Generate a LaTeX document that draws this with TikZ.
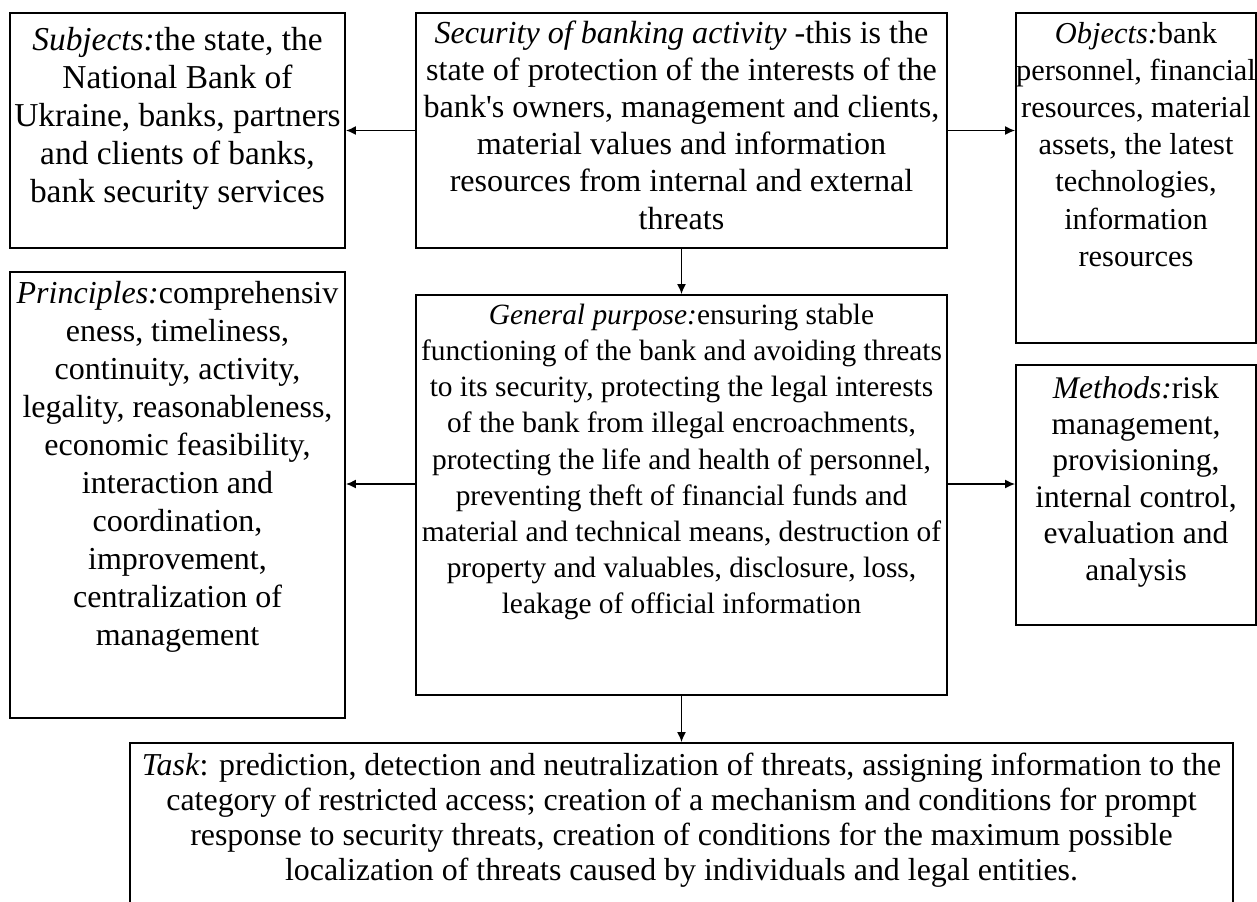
\documentclass[tikz,border=0pt]{standalone}
\usepackage{fontspec}
\setmainfont{Liberation Serif}
\usetikzlibrary{arrows.meta}
\newcommand{\boxtext}[4]{\parbox[c][#2][t]{#1}{\vspace*{#3}\makebox[#1]{\begin{tabular}[t]{@{}c@{}}#4\end{tabular}}}}
\tikzset{
  blk/.style 2 args={draw, line width=0.9pt, inner sep=0pt,
    font=\fontsize{#1}{#2}\selectfont},
  link/.style={line width=0.8pt, -{Latex[length=5pt,width=4.5pt]}}
}
\begin{document}
\begin{tikzpicture}[x=0.5pt,y=-0.5pt]
\useasboundingbox (0,0) rectangle (1257,901);
\clip (0,0) rectangle (1257,901);
\node [blk={16.7pt}{19pt}] (subj) at (177.5,130.5) {\boxtext{167.5pt}{117.5pt}{5.2pt}{\textit{Subjects:}the state, the\\
  National Bank of\\ Ukraine, banks, partners\\ and clients of banks,\\ bank security services}};
\node [blk={16.05pt}{18.6pt}] (sec) at (681.5,130.5) {\boxtext{265.5pt}{117.5pt}{2pt}{\textit{Security of banking activity} -this is the\\
  state of protection of the interests of the\\ bank\textquotesingle s owners, management and clients,\\
  material values and information\\ resources from internal and external\\ threats}};
\node [blk={15.2pt}{18.6pt}] (obj) at (1136,178) {\boxtext{120pt}{165pt}{2pt}{\textit{Objects:}bank\\ personnel, financial\\
  resources, material\\ assets, the latest\\ technologies,\\ information\\ resources}};
\node [blk={16pt}{19pt}] (prin) at (177.5,495) {\boxtext{167.5pt}{223pt}{2.2pt}{\textit{Principles:}comprehensiv\\
  eness, timeliness,\\ continuity, activity,\\ legality, reasonableness,\\ economic feasibility,\\
  interaction and\\ coordination,\\ improvement,\\ centralization of\\ management}};
\node [blk={14.7pt}{18.1pt}] (gen) at (681.5,495) {\boxtext{265.5pt}{200pt}{2pt}{\textit{General purpose:}ensuring stable\\
  functioning of the bank and avoiding threats\\ to its security, protecting the legal interests\\
  of the bank from illegal encroachments,\\ protecting the life and health of personnel,\\
  preventing theft of financial funds and\\ material and technical means, destruction of\\
  property and valuables, disclosure, loss,\\ leakage of official information}};
\node [blk={15.75pt}{18.2pt}] (meth) at (1136,495) {\boxtext{120pt}{130pt}{3.8pt}{\textit{Methods:}risk\\ management,\\
  provisioning,\\ internal control,\\ evaluation and\\ analysis}};
\node [blk={15.95pt}{17.5pt}] (task) at (681.5,853) {\boxtext{551.5pt}{110pt}{3.75pt}{\textit{Task}: prediction, detection and
  neutralization of threats, assigning information to the\\ category of restricted access; creation of a
  mechanism and conditions for prompt\\ response to security threats, creation of conditions for the
  maximum possible\\ localization of threats caused by individuals and legal entities.}};
\draw [link] (sec.west) -- (subj.east);
\draw [link] (sec.east) -- (sec.east -| obj.west);
\draw [link] (sec.south) -- (gen.north);
\draw [link] ([yshift=5.5pt]gen.west) -- ([yshift=5.5pt]gen.west -| prin.east);
\draw [link] ([yshift=5.5pt]gen.east) -- ([yshift=5.5pt]gen.east -| meth.west);
\draw [link] (gen.south) -- (task.north);
\end{tikzpicture}
\end{document}
